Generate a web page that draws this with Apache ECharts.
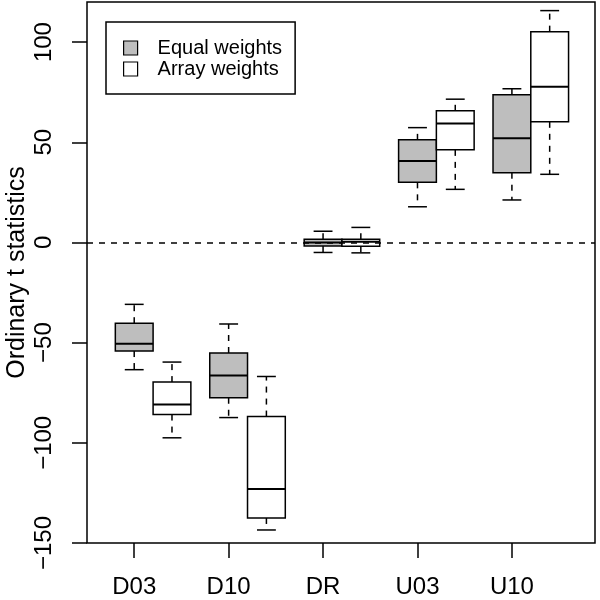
<!DOCTYPE html>
<html>
<head>
<meta charset="utf-8">
<script src="https://cdn.jsdelivr.net/npm/echarts@6/dist/echarts.min.js"></script>
<style>
html,body{margin:0;padding:0;background:#fff;}
#chart{width:600px;height:600px;}
</style>
</head>
<body>
<div id="chart"></div>
<script>
// ---- data ----
const categories = ['D03', 'D10', 'DR', 'U03', 'U10'];
const categoryPos = [1, 2, 3, 4, 5];
const yTicks = [-150, -100, -50, 0, 50, 100];

const equalLow  = [-63.5, -87.4, -5.0, 17.8, 21.2];
const equalQ1   = [-54.2, -77.5, -1.8, 30.0, 34.8];
const equalMed  = [-50.5, -66.4, 0.0, 40.7, 52.0];
const equalQ3   = [-40.3, -55.2, 1.6, 51.2, 73.7];
const equalHigh = [-30.9, -40.7, 5.6, 57.3, 76.7];

const arrayLow  = [-97.5, -143.5, -5.2, 26.5, 34.0];
const arrayQ1   = [-85.9, -137.5, -1.9, 46.2, 60.2];
const arrayMed  = [-80.9, -123.0, 0.3, 59.3, 77.7];
const arrayQ3   = [-69.7, -86.9, 1.6, 65.7, 105.2];
const arrayHigh = [-59.7, -66.9, 7.5, 71.5, 115.7];

const BOX_W = 0.4;
const ARRAY_OFFSET = 0.4;
const FONT = '"Liberation Sans", Arial, Helvetica, sans-serif';

function rows(offset, lo, q1, med, q3, hi) {
  return categoryPos.map((p, i) => [p + offset, lo[i], q1[i], med[i], q3[i], hi[i]]);
}

function renderBox(params, api) {
  const x = api.value(0);
  const lo = api.coord([x, api.value(1)]);
  const q1 = api.coord([x, api.value(2)]);
  const med = api.coord([x, api.value(3)]);
  const q3 = api.coord([x, api.value(4)]);
  const hi = api.coord([x, api.value(5)]);
  const w = api.size([BOX_W, 0])[0];
  const cx = lo[0];
  const fill = api.visual('color');
  const lw = 1.5;
  const dash = {stroke: '#000', lineWidth: lw, lineDash: [6, 6]};
  const solid = {stroke: '#000', lineWidth: lw};
  return {
    type: 'group',
    children: [
      {type: 'line', shape: {x1: cx, y1: q3[1], x2: cx, y2: hi[1]}, style: dash},
      {type: 'line', shape: {x1: cx, y1: q1[1], x2: cx, y2: lo[1]}, style: dash},
      {type: 'line', shape: {x1: cx - w / 4, y1: hi[1], x2: cx + w / 4, y2: hi[1]}, style: solid},
      {type: 'line', shape: {x1: cx - w / 4, y1: lo[1], x2: cx + w / 4, y2: lo[1]}, style: solid},
      {type: 'rect', shape: {x: cx - w / 2, y: q3[1], width: w, height: q1[1] - q3[1]},
        style: {fill: fill, stroke: '#000', lineWidth: lw}},
      {type: 'line', shape: {x1: cx - w / 2, y1: med[1], x2: cx + w / 2, y2: med[1]},
        style: {stroke: '#000', lineWidth: 2}}
    ]
  };
}

const chart = echarts.init(document.getElementById('chart'), null, {renderer: 'canvas'});
chart.setOption({
  animation: false,
  backgroundColor: '#fff',
  textStyle: {fontFamily: FONT, color: '#000'},
  grid: {
    left: 87, right: 5, top: 2, bottom: 57,
    outerBoundsMode: 'none',
    containLabel: false,
    show: true, borderColor: '#000', borderWidth: 1.5, backgroundColor: 'transparent'
  },
  legend: {
    left: 106, top: 22,
    orient: 'vertical',
    padding: [16, 13, 15, 17],
    borderColor: '#000', borderWidth: 1.5,
    itemWidth: 14, itemHeight: 14, itemGap: 1,
    icon: 'rect',
    textStyle: {fontSize: 20, fontFamily: FONT, color: '#000', lineHeight: 20, padding: [0, 0, 0, 15]},
    data: [
      {name: 'Equal weights', itemStyle: {color: '#bebebe', borderColor: '#000', borderWidth: 1.2}},
      {name: 'Array weights', itemStyle: {color: '#ffffff', borderColor: '#000', borderWidth: 1.2}}
    ]
  },
  xAxis: {
    type: 'value', min: 0.5, max: 5.88,
    splitLine: {show: false},
    axisLine: {show: false, onZero: false},
    axisTick: {show: true, length: 15, lineStyle: {color: '#000', width: 1.5}, customValues: categoryPos},
    axisLabel: {
      customValues: categoryPos, margin: 32, fontSize: 24, color: '#000', fontFamily: FONT,
      formatter: v => categories[categoryPos.indexOf(Math.round(v))] || ''
    }
  },
  yAxis: {
    type: 'value', min: -150, max: 120,
    name: 'Ordinary t statistics', nameLocation: 'middle', nameRotate: 90, nameGap: 57,
    nameMoveOverlap: false,
    nameTextStyle: {fontSize: 25, color: '#000', fontFamily: FONT},
    splitLine: {show: false},
    axisLine: {show: false, onZero: false},
    axisTick: {show: true, length: 15, lineStyle: {color: '#000', width: 1.5}, customValues: yTicks},
    axisLabel: {
      customValues: yTicks, rotate: 90, margin: 31, fontSize: 24, color: '#000', fontFamily: FONT,
      formatter: v => String(v).replace('-', '\u2212')
    }
  },
  series: [
    {
      name: 'Equal weights', type: 'custom', renderItem: renderBox,
      itemStyle: {color: '#bebebe'},
      encode: {x: 0, y: [1, 2, 3, 4, 5]},
      data: rows(0, equalLow, equalQ1, equalMed, equalQ3, equalHigh),
      markLine: {
        silent: true, symbol: ['none', 'none'], label: {show: false},
        lineStyle: {color: '#000', type: [6, 6], width: 1.5},
        data: [{yAxis: 0}]
      },
      z: 3
    },
    {
      name: 'Array weights', type: 'custom', renderItem: renderBox,
      itemStyle: {color: '#ffffff'},
      encode: {x: 0, y: [1, 2, 3, 4, 5]},
      data: rows(ARRAY_OFFSET, arrayLow, arrayQ1, arrayMed, arrayQ3, arrayHigh),
      z: 3
    }
  ]
});
</script>
</body>
</html>
